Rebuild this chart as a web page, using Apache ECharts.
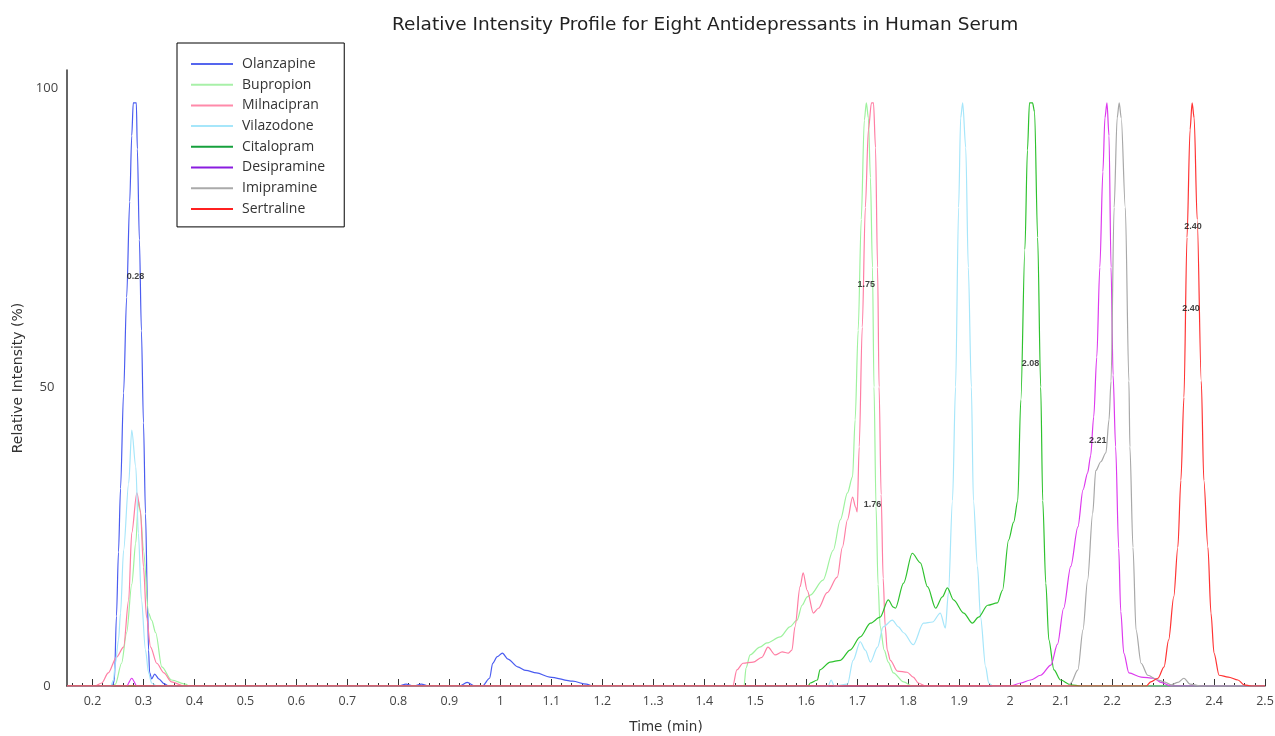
<!DOCTYPE html>
<html>
<head>
<meta charset="utf-8">
<title>Relative Intensity Profile</title>
<script src="https://cdn.jsdelivr.net/npm/echarts@6/dist/echarts.min.js"></script>
<style>
  html, body { margin: 0; padding: 0; background: #fff; }
  #chart { width: 1275px; height: 736px; }
</style>
</head>
<body>
<div id="chart"></div>
<script>
// time (min), relative intensity (%)
var olanzapine = [[0.15,0],[0.239,0],[0.243,1],[0.247,11.7],[0.251,22.4],[0.255,33],[0.261,49],[0.267,65],[0.273,81],[0.277,92],[0.280,97.5],[0.286,97.5],[0.288,89.8],[0.292,74.6],[0.296,59.4],[0.300,44],[0.304,28.8],[0.308,13.5],[0.310,6],[0.312,2.3],[0.316,1.2],[0.322,2],[0.330,1.2],[0.340,0.4],[0.349,0],
    [0.80,0],[0.815,0.3],[0.83,0],[0.845,0.3],[0.86,0],[0.92,0],[0.935,0.6],[0.95,0],[0.965,0],[0.979,1.3],[0.985,3.8],[0.994,4.9],[1.004,5.5],[1.015,4.5],[1.034,3.2],[1.050,2.6],[1.071,2.2],[1.097,1.5],[1.142,0.8],[1.169,0.3],[1.181,0],[2.5,0]];
var bupropion = [[0.15,0],[0.240,0],[0.245,0.3],[0.257,3.8],[0.267,8.9],[0.277,17],[0.285,24],[0.290,31],[0.294,29],[0.300,22.7],[0.310,12.2],[0.316,11],[0.324,8.9],[0.336,3.2],[0.355,1],[0.383,0.3],[0.389,0],
    [1.478,0],[1.482,3],[1.490,5.2],[1.509,6.5],[1.523,7.2],[1.549,8.2],[1.568,9.9],[1.582,11],[1.592,13.5],[1.602,14.9],[1.608,15.2],[1.633,17.7],[1.653,22.7],[1.667,27.8],[1.681,32.3],[1.691,35],[1.696,44.5],[1.702,59.5],[1.708,78],[1.714,94.6],[1.718,97.5],[1.722,95],[1.726,85],[1.730,70],[1.733,50],[1.737,30],[1.741,17],[1.745,10],[1.753,6],[1.761,4],[1.771,2.2],[1.791,0.7],[1.808,0],[2.5,0]];
var milnacipran = [[0.15,0],[0.205,0],[0.218,0.5],[0.231,2.2],[0.247,4.8],[0.261,6.5],[0.271,14.4],[0.277,25.6],[0.287,32.3],[0.294,29.4],[0.300,19.9],[0.306,11.5],[0.314,6.5],[0.326,3.8],[0.340,2.2],[0.355,0.7],[0.379,0],
    [1.456,0],[1.464,2.7],[1.476,3.8],[1.496,4],[1.513,4.8],[1.525,6.5],[1.539,5.2],[1.553,5.7],[1.565,5.5],[1.572,6],[1.578,9.9],[1.588,16.6],[1.594,18.9],[1.602,16],[1.614,12.2],[1.624,13],[1.641,15.6],[1.661,18.2],[1.671,23.2],[1.681,27.8],[1.691,31.6],[1.697,29.9],[1.700,29.1],[1.704,40],[1.710,60],[1.716,80],[1.722,93],[1.728,97.5],[1.732,97.5],[1.736,90],[1.740,70],[1.743,50],[1.747,32],[1.751,18],[1.755,10],[1.759,6],[1.765,4.3],[1.779,2.5],[1.798,2.3],[1.810,1.5],[1.820,0.5],[1.834,0],[2.5,0]];
var vilazodone = [[0.15,0],[0.236,0],[0.241,1],[0.245,3.8],[0.251,7.7],[0.255,12.2],[0.261,22.7],[0.271,33.9],[0.277,42.8],[0.285,36.6],[0.290,25.6],[0.296,14.4],[0.304,6],[0.310,2.2],[0.316,0.5],[0.326,0],
    [1.643,0],[1.649,1],[1.655,0],[1.681,0.3],[1.692,4.3],[1.706,7.4],[1.716,6],[1.726,4],[1.740,6.5],[1.751,9.9],[1.769,11],[1.781,9.9],[1.791,8.9],[1.810,6.9],[1.830,10.5],[1.848,10.7],[1.863,12.2],[1.873,9.7],[1.879,15.6],[1.887,31],[1.893,50],[1.899,80],[1.903,95],[1.907,97.5],[1.913,90],[1.918,70],[1.924,50],[1.928,31],[1.936,20],[1.942,11.5],[1.952,3.2],[1.958,0.5],[1.966,0],[2.5,0]];
var citalopram = [[0.15,0],[1.604,0],[1.608,0.5],[1.622,1],[1.627,2.7],[1.647,4],[1.667,4.3],[1.686,6],[1.706,8.2],[1.726,10.5],[1.745,11.5],[1.761,14.4],[1.771,13.2],[1.775,13],[1.791,17.2],[1.808,22.2],[1.824,20.6],[1.838,16.6],[1.854,13],[1.867,14.9],[1.877,16.4],[1.889,14.4],[1.909,12.2],[1.926,10.5],[1.938,11.5],[1.956,13.5],[1.975,13.9],[1.985,16],[1.997,24.4],[2.007,27.4],[2.015,31],[2.021,47.8],[2.029,73],[2.034,89.6],[2.038,97.5],[2.044,97.5],[2.048,96],[2.054,75],[2.060,50],[2.064,31],[2.070,17.2],[2.076,7.7],[2.086,2.7],[2.099,1],[2.119,0.2],[2.139,0],[2.5,0]];
var desipramine = [[0.15,0],[0.267,0],[0.277,1.3],[0.287,0],[2.001,0],[2.021,0.5],[2.040,1],[2.060,1.8],[2.080,3.5],[2.093,7],[2.105,13],[2.119,20],[2.133,26.6],[2.143,32.8],[2.152,35.6],[2.158,38.5],[2.164,45],[2.170,55],[2.176,70],[2.182,86],[2.186,95],[2.190,97.5],[2.194,92],[2.198,70],[2.202,52],[2.207,40],[2.213,23],[2.217,12.5],[2.223,5.5],[2.233,2.2],[2.257,1.5],[2.282,1.3],[2.296,0.6],[2.316,0],[2.5,0]];
var imipramine = [[0.15,0],[2.115,0],[2.119,0.5],[2.133,2.7],[2.143,9.4],[2.152,17.7],[2.162,28.9],[2.168,36],[2.178,37.5],[2.188,39],[2.194,44.5],[2.198,51],[2.204,80],[2.210,95],[2.214,97.5],[2.218,95],[2.226,80],[2.233,51],[2.235,40],[2.241,23.2],[2.247,9.4],[2.257,3.8],[2.270,1.8],[2.290,1],[2.302,0.7],[2.316,0.2],[2.329,0.6],[2.341,1.3],[2.353,0.3],[2.375,0],[2.5,0]];
var sertraline = [[0.15,0],[2.267,0],[2.276,0.7],[2.290,1.3],[2.302,3.2],[2.311,7.7],[2.321,14.9],[2.329,23.2],[2.335,34.4],[2.341,48.3],[2.347,75],[2.353,93],[2.357,97.5],[2.361,95],[2.367,78],[2.375,51],[2.380,34.4],[2.388,23.2],[2.394,12.2],[2.400,5.5],[2.410,1.8],[2.428,1.5],[2.447,1],[2.459,0.2],[2.473,0],[2.5,0]];

// peak annotations: time, intensity, text
var peakLabels = [[0.2845,68.4,'0.28'],[1.718,67.1,'1.75'],[1.730,30.4,'1.76'],[2.040,54.0,'2.08'],[2.172,41.1,'2.21'],[2.359,76.8,'2.40'],[2.355,63.2,'2.40']];

var names = ['Olanzapine','Bupropion','Milnacipran','Vilazodone','Citalopram','Desipramine','Imipramine','Sertraline'];
var seriesData = [olanzapine, bupropion, milnacipran, vilazodone, citalopram, desipramine, imipramine, sertraline];
var lineColors = ['#4a5cf0','#9ef29e','#ff7ea4','#a6e6fa','#2ec22e','#dd3aee','#a8a8a8','#ff3333'];
var legendColors = ['#5566ee','#a8f0a8','#ff8aaa','#a6e6fa','#16a03c','#8a1ce0','#aaaaaa','#ff2020'];

var xTickValues = [0.2,0.3,0.4,0.5,0.6,0.7,0.8,0.9,1,1.1,1.2,1.3,1.4,1.5,1.6,1.7,1.8,1.9,2,2.1,2.2,2.3,2.4,2.5];
var xTickLabels = ['0.2','0.3','0.4','0.5','0.6','0.7','0.8','0.9','1','1.1','1.2','1..3','1.4','1.5','1.6','1.7','1.8','1.9','2','2.1','2.2','2.3','2.4','2.5'];
var yTickValues = [0, 50, 100];

var minorTicks = [];
for (var i = 8; i <= 125; i++) {
    if (i % 5 != 0) minorTicks.push(i * 0.02);
}

var FONT = 'Open Sans';
var NAMEFONT = 'DejaVu Sans';

var series = seriesData.map(function (d, i) {
    return {
        name: names[i],
        type: 'line',
        data: d,
        symbol: 'none',
        smooth: 0.3,
        smoothMonotone: 'x',
        color: lineColors[i],
        lineStyle: { width: 1.2, color: lineColors[i] },
        z: 2
    };
});

series.push({
    name: 'labels',
    type: 'scatter',
    data: peakLabels,
    symbolSize: 0,
    silent: true,
    z: 5,
    label: {
        show: true,
        position: 'inside',
        formatter: function (p) { return p.data[2]; },
        fontSize: 9,
        fontWeight: 'bold',
        fontFamily: 'Liberation Sans',
        color: '#111'
    }
});

var option = {
    animation: false,
    backgroundColor: '#fff',
    title: {
        text: 'Relative Intensity Profile for Eight Antidepressants in Human Serum',
        left: 387,
        top: 11,
        textStyle: { fontSize: 18.5, fontWeight: 'normal', color: '#222', fontFamily: NAMEFONT }
    },
    legend: {
        orient: 'vertical',
        left: 177,
        top: 43,
        data: names.map(function (n, i) {
            return { name: n, itemStyle: { color: legendColors[i] } };
        }),
        icon: 'rect',
        itemWidth: 42,
        itemHeight: 2,
        itemGap: 5.7,
        padding: [13.5, 19, 10.5, 14],
        borderColor: '#000',
        borderWidth: 1,
        backgroundColor: '#fff',
        selectedMode: false,
        textStyle: { fontSize: 14, color: '#333', fontFamily: FONT, lineHeight: 15, padding: [0, 0, 0, 4] }
    },
    grid: { left: 67, right: 10, top: 70, bottom: 50, outerBoundsMode: 'none', containLabel: false },
    xAxis: [{
        type: 'value',
        min: 0.15,
        max: 2.5,
        position: 'bottom',
        name: 'Time (min)',
        nameLocation: 'middle',
        nameGap: 34,
        nameTextStyle: { fontSize: 13.5, color: '#333', fontFamily: NAMEFONT },
        axisLine: { lineStyle: { color: '#333', width: 1.5 } },
        axisTick: { inside: true, length: 7, customValues: xTickValues, lineStyle: { color: '#333' } },
        axisLabel: {
            customValues: xTickValues,
            fontSize: 12.5,
            color: '#444',
            fontFamily: FONT,
            margin: 9,
            formatter: function (v) {
                for (var k = 0; k < xTickValues.length; k++) {
                    if (Math.abs(v - xTickValues[k]) < 1e-6) return xTickLabels[k];
                }
                return '';
            }
        },
        splitLine: { show: false }
    }, {
        type: 'value',
        min: 0.15,
        max: 2.5,
        position: 'bottom',
        axisLine: { show: false },
        axisTick: { inside: true, length: 3, customValues: minorTicks, lineStyle: { color: '#333' } },
        axisLabel: { show: false },
        splitLine: { show: false }
    }],
    yAxis: {
        type: 'value',
        min: 0,
        max: 103,
        name: 'Relative Intensity (%)',
        nameLocation: 'middle',
        nameGap: 41,
        nameTextStyle: { fontSize: 14, color: '#333', fontFamily: NAMEFONT },
        axisLine: { show: true, lineStyle: { color: '#333', width: 1.5 } },
        axisTick: { show: false },
        axisLabel: { customValues: yTickValues, fontSize: 13, color: '#444', fontFamily: FONT, align: 'center', margin: 20 },
        splitLine: { show: false }
    },
    series: series
};

var chart = echarts.init(document.getElementById('chart'));
chart.setOption(option);
</script>
</body>
</html>
